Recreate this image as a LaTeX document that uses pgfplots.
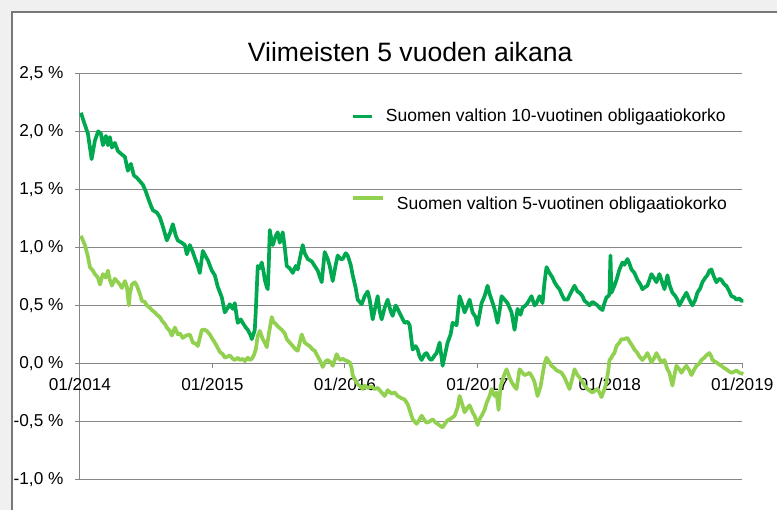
\documentclass[border=0pt]{standalone}
\usepackage{pgfplots}
\pgfplotsset{compat=1.18}
\usepackage{fontspec}
\setmainfont{Liberation Sans}
\definecolor{dkgreen}{RGB}{0,168,80}
\definecolor{ltgreen}{RGB}{146,208,80}
\definecolor{gridgray}{RGB}{134,134,134}
\definecolor{bggray}{RGB}{240,240,240}
\definecolor{framegray}{RGB}{120,120,120}
\begin{document}
\begin{tikzpicture}[x=1bp,y=1bp]
\fill[bggray] (0,0) rectangle (778,510);
\fill[white] (12,0) rectangle (778,498);
\draw[framegray, line width=1.4bp] (12,0) -- (12,498) -- (778,498);
\begin{scope}
\begin{axis}[
  at={(80,25.8)}, anchor=south west,
  scale only axis, width=663bp, height=406.7bp,
  xmin=80, xmax=743, ymin=-1, ymax=2.5,
  axis x line=middle, axis y line=left,
  axis line style={-, gridgray, line width=1bp},
  tick align=outside, major tick length=5bp,
  tick style={gridgray, line width=1bp},
  hide obscured x ticks=false,
  ymajorgrids, grid style={gridgray, line width=1bp},
  ytick={-1,-0.5,0,0.5,1,1.5,2,2.5},
  yticklabels={{-1,0 \%},{-0,5 \%},{0,0 \%},{0,5 \%},{1,0 \%},{1,5 \%},{2,0 \%},{2,5 \%}},
  xtick={80,212.6,345.2,477.8,610.4,743},
  xticklabels={01/2014,01/2015,01/2016,01/2017,01/2018,01/2019},
  tick label style={font=\fontsize{17.3}{20}\selectfont, text=black},
  xticklabel style={yshift=-6.5bp},
  yticklabel style={xshift=-8bp},
  clip=false,
]
\addplot[dkgreen, line width=3.7bp, line join=round] coordinates {
(81,2.16)(84,2.08)(88,1.98)(91.7,1.76)(95,1.92)(98.3,2.0)(101,1.98)(103,1.88)(106,1.96)(108,1.88)
(110,1.95)(112,1.86)(115,1.90)(118,1.83)(122,1.80)(125,1.78)(128,1.66)(131,1.72)(134,1.62)(137,1.60)
(140,1.57)(143,1.54)(146,1.48)(148,1.43)(151,1.36)(153,1.32)(157,1.30)(160,1.26)(163,1.18)(167,1.06)
(170,1.12)(173,1.20)(176,1.10)(178,1.06)(182,1.04)(185,1.02)(187,0.94)(190,1.02)(193,0.96)(195,0.91)
(198,0.84)(200,0.78)(203,0.97)(206,0.92)(208,0.89)(212,0.80)(215,0.76)(218,0.66)(222,0.57)(225,0.44)
(228,0.48)(230,0.51)(233,0.47)(235,0.52)(237,0.40)(238,0.35)(241,0.38)(243,0.35)(246,0.31)(248,0.29)
(251,0.24)(252,0.21)(254,0.26)(255,0.29)(256,0.45)(258,0.84)(260,0.82)(262,0.87)(264,0.78)(265,0.72)
(267,0.66)(268,0.64)(269,0.85)(270,1.15)(272,1.05)(273,1.02)(276,1.10)(278,1.13)(280,1.04)(282,1.10)
(283,1.13)(285,1.00)(287,0.84)(290,0.82)(293,0.78)(296,0.84)(298,0.81)(300,0.90)(303,1.02)(305,0.95)
(308,0.90)(312,0.88)(315,0.84)(318,0.80)(322,0.70)(325,0.96)(328,0.90)(330,0.84)(333,0.71)(336,0.85)
(338,0.93)(341,0.90)(343,0.90)(346,0.95)(348,0.93)(351,0.85)(353,0.76)(356,0.65)(358,0.55)(362,0.51)
(365,0.58)(368,0.62)(370,0.55)(373,0.38)(376,0.50)(378,0.58)(380,0.45)(382,0.38)(385,0.48)(388,0.55)
(391,0.45)(393,0.41)(396,0.50)(398,0.47)(402,0.40)(405,0.35)(408,0.36)(410,0.33)(413,0.12)(416,0.15)
(418,0.12)(420,0.06)(422,0.03)(425,0.08)(427,0.09)(430,0.04)(432,0.03)(435,0.07)(437,0.09)(440,0.18)
(442,0.05)(443,-0.02)(446,0.10)(448,0.18)(451,0.25)(453,0.35)(457,0.33)(460,0.58)(463,0.50)(465,0.44)
(468,0.50)(470,0.55)(473,0.44)(476,0.40)(478,0.33)(482,0.52)(485,0.58)(488,0.67)(490,0.60)(492,0.55)
(495,0.47)(498,0.35)(500,0.45)(502,0.58)(505,0.55)(508,0.52)(512,0.44)(515,0.29)(518,0.47)(521,0.42)
(523,0.48)(526,0.50)(528,0.52)(530,0.55)(532,0.58)(535,0.50)(537,0.52)(540,0.58)(543,0.52)(545,0.70)
(547,0.83)(550,0.78)(553,0.74)(555,0.70)(558,0.66)(560,0.64)(563,0.58)(565,0.55)(568,0.55)(572,0.62)
(575,0.67)(578,0.62)(580,0.61)(583,0.58)(585,0.54)(588,0.52)(590,0.50)(593,0.53)(595,0.52)(598,0.50)
(600,0.48)(603,0.46)(605,0.52)(607,0.57)(609,0.58)(610,0.60)(611,0.93)(612,0.61)(615,0.67)(617,0.72)
(620,0.81)(623,0.87)(625,0.85)(628,0.90)(630,0.86)(632,0.81)(635,0.78)(638,0.72)(641,0.68)(643,0.64)
(646,0.66)(648,0.67)(650,0.72)(652,0.77)(655,0.73)(657,0.70)(660,0.77)(662,0.72)(665,0.64)(668,0.76)
(670,0.68)(673,0.61)(676,0.58)(678,0.55)(680,0.50)(683,0.55)(687,0.61)(690,0.55)(693,0.50)(696,0.55)
(698,0.61)(701,0.65)(703,0.70)(706,0.74)(708,0.76)(710,0.80)(712,0.81)(714,0.76)(717,0.70)(720,0.73)
(722,0.72)(725,0.68)(727,0.67)(730,0.62)(732,0.58)(735,0.57)(737,0.55)(740,0.56)(742,0.54)(744,0.54)
};
\addplot[ltgreen, line width=3.7bp, line join=round] coordinates {
(81,1.10)(83,1.06)(85,1.02)(88,0.92)(90,0.83)(93,0.80)(95,0.77)(98,0.74)(100,0.68)(103,0.77)
(106,0.74)(108,0.80)(110,0.72)(112,0.67)(115,0.73)(117,0.71)(120,0.68)(122,0.65)(125,0.71)(127,0.66)
(129,0.50)(130,0.60)(132,0.68)(135,0.70)(137,0.67)(140,0.60)(142,0.54)(145,0.53)(147,0.50)(150,0.48)
(152,0.46)(155,0.44)(157,0.42)(160,0.40)(162,0.37)(165,0.34)(167,0.31)(170,0.28)(172,0.24)(175,0.31)
(178,0.25)(180,0.26)(183,0.22)(186,0.24)(190,0.25)(193,0.18)(196,0.17)(198,0.15)(200,0.22)(202,0.29)
(205,0.29)(207,0.28)(210,0.25)(212,0.22)(215,0.18)(217,0.15)(220,0.10)(223,0.08)(225,0.05)(228,0.06)
(230,0.07)(233,0.04)(235,0.03)(238,0.05)(240,0.03)(243,0.04)(245,0.02)(248,0.05)(250,0.03)(252,0.04)
(254,0.07)(256,0.12)(258,0.24)(260,0.28)(263,0.21)(265,0.18)(267,0.14)(269,0.25)(272,0.40)(274,0.35)
(275,0.35)(278,0.32)(282,0.29)(285,0.26)(287,0.21)(290,0.18)(293,0.15)(296,0.12)(298,0.11)(300,0.18)
(302,0.25)(305,0.18)(308,0.16)(310,0.15)(313,0.12)(315,0.11)(318,0.06)(320,0.03)(323,-0.03)(326,0.02)
(328,0.03)(331,0.01)(333,-0.02)(335,0.03)(337,0.08)(340,0.03)(343,0.04)(345,0.03)(348,0.02)(350,0.01)
(352,-0.04)(353,-0.10)(356,-0.15)(358,-0.18)(361,-0.20)(363,-0.22)(365,-0.19)(368,-0.21)(372,-0.20)(375,-0.22)
(378,-0.21)(382,-0.25)(385,-0.28)(388,-0.23)(392,-0.26)(395,-0.25)(398,-0.28)(402,-0.30)(405,-0.31)(408,-0.35)
(410,-0.40)(413,-0.48)(415,-0.50)(417,-0.52)(420,-0.48)(422,-0.45)(425,-0.49)(427,-0.51)(430,-0.50)(433,-0.48)
(436,-0.51)(438,-0.52)(441,-0.54)(443,-0.55)(446,-0.51)(448,-0.49)(452,-0.47)(455,-0.45)(458,-0.38)(460,-0.28)
(463,-0.36)(465,-0.42)(468,-0.38)(470,-0.36)(473,-0.42)(475,-0.45)(477,-0.50)(478,-0.53)(480,-0.48)(482,-0.45)
(485,-0.40)(487,-0.34)(490,-0.28)(492,-0.22)(495,-0.28)(497,-0.25)(499,-0.40)(501,-0.20)(503,-0.14)(505,-0.09)
(507,-0.05)(510,-0.12)(512,-0.16)(515,-0.20)(517,-0.22)(520,-0.05)(523,-0.08)(525,-0.10)(528,-0.09)(530,-0.08)
(533,-0.12)(535,-0.16)(538,-0.28)(541,-0.20)(543,-0.10)(545,0.00)(547,0.05)(550,0.01)(552,-0.02)(555,-0.04)
(557,-0.06)(560,-0.07)(562,-0.08)(565,-0.12)(567,-0.16)(570,-0.22)(573,-0.12)(575,-0.05)(578,-0.10)(580,-0.12)
(583,-0.16)(586,-0.20)(588,-0.22)(591,-0.24)(593,-0.25)(596,-0.23)(598,-0.22)(600,-0.25)(602,-0.29)(605,-0.22)
(607,-0.16)(609,-0.05)(610,0.03)(612,0.05)(613,0.07)(615,0.09)(617,0.15)(620,0.18)(622,0.21)(625,0.21)
(628,0.22)(630,0.19)(633,0.15)(635,0.12)(638,0.09)(640,0.06)(643,0.03)(646,0.06)(648,0.09)(650,0.05)
(652,0.01)(655,0.05)(657,0.09)(660,0.04)(662,0.01)(665,0.03)(668,-0.05)(670,-0.08)(673,-0.19)(675,-0.10)
(677,-0.02)(680,-0.05)(682,-0.08)(685,-0.04)(687,-0.02)(690,-0.06)(692,-0.10)(695,-0.05)(697,-0.02)(700,0.00)
(702,0.03)(705,0.05)(707,0.07)(710,0.09)(712,0.06)(713,0.03)(715,0.02)(717,0.01)(720,-0.01)(722,-0.02)
(725,-0.04)(727,-0.05)(730,-0.07)(732,-0.08)(735,-0.07)(737,-0.06)(740,-0.08)(744,-0.09)
};
\end{axis}
\end{scope}
\node[anchor=base, font=\fontsize{26.7}{30}\selectfont, inner sep=0pt] at (410.5,448.3) {Viimeisten 5 vuoden aikana};
\draw[dkgreen, line width=3.7bp] (353,393.3) -- (372,393.3);
\node[anchor=base west, font=\fontsize{17.6}{20}\selectfont, inner sep=0pt] at (386,388.3) {Suomen valtion 10-vuotinen obligaatiokorko};
\draw[ltgreen, line width=3.7bp] (353,311.7) -- (383,311.7);
\node[anchor=base west, font=\fontsize{17.6}{20}\selectfont, inner sep=0pt] at (397,300) {Suomen valtion 5-vuotinen obligaatiokorko};
\end{tikzpicture}
\end{document}
